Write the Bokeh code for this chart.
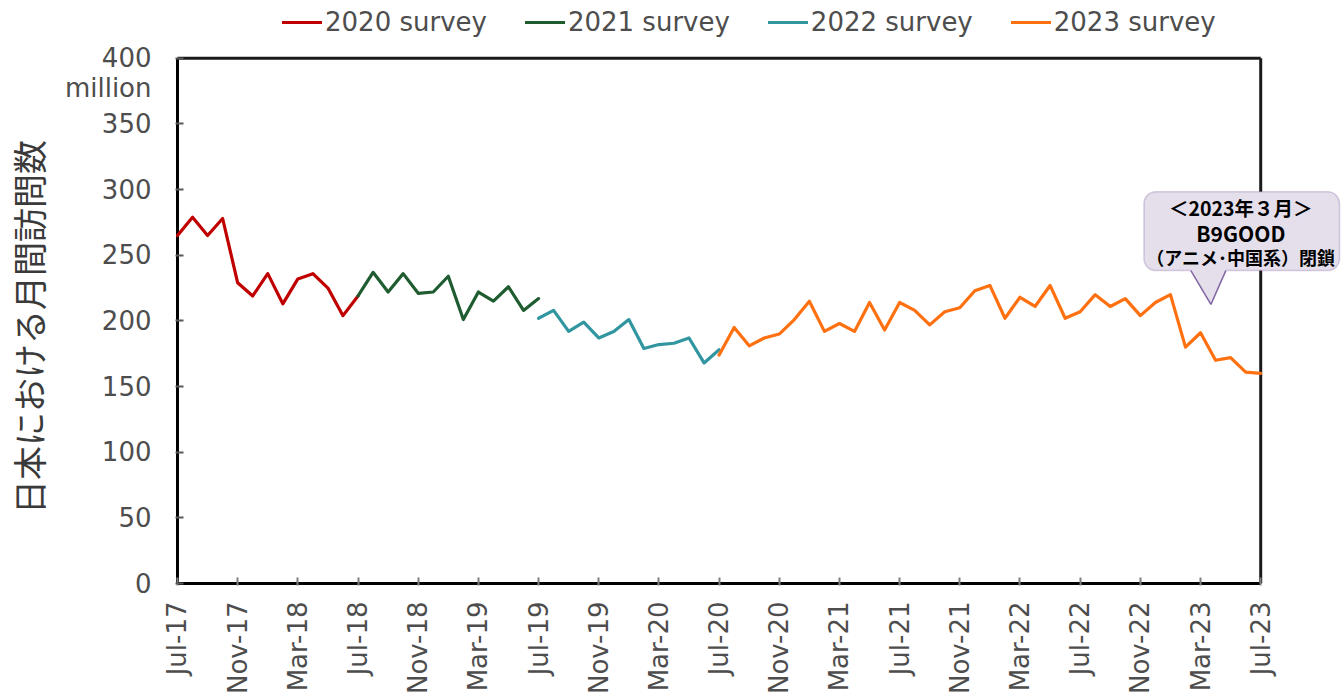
import numpy as np
from bokeh.plotting import figure
from bokeh.models import (FixedTicker, Legend, LegendItem, Label, Range1d,
                          ColumnDataSource, BoxAnnotation)
from bokeh.embed import file_html
from bokeh.resources import INLINE

# ---------------- data ----------------
x_tick_labels = ["Jul-17", "Nov-17", "Mar-18", "Jul-18", "Nov-18", "Mar-19", "Jul-19",
                 "Nov-19", "Mar-20", "Jul-20", "Nov-20", "Mar-21", "Jul-21", "Nov-21",
                 "Mar-22", "Jul-22", "Nov-22", "Mar-23", "Jul-23"]
x_tick_step = 4            # months between tick labels
y_ticks = [0, 50, 100, 150, 200, 250, 300, 350, 400]

survey_names = ["2020 survey", "2021 survey", "2022 survey", "2023 survey"]
survey_start = [0, 12, 24, 36]   # month index (0 = Jul-17)

visits_2020 = [265, 279, 265, 278, 229, 219, 236, 213, 232, 236, 225, 204, 219]
visits_2021 = [219, 237, 222, 236, 221, 222, 234, 201, 222, 215, 226, 208, 217]
visits_2022 = [202, 208, 192, 199, 187, 192, 201, 179, 182, 183, 187, 168, 178]
visits_2023 = [174, 195, 181, 187, 190, 201, 215, 192, 198, 192, 214, 193, 214, 208,
               197, 207, 210, 223, 227, 202, 218, 211, 227, 202, 207, 220, 211, 217,
               204, 214, 220, 180, 191, 170, 172, 161, 160]
series = [visits_2020, visits_2021, visits_2022, visits_2023]
colors = ["#c00000", "#1f5c30", "#3196a0", "#ff7010"]

y_axis_title = "日本における月間訪問数"
unit_text = "million"
callout_lines = ["＜2023年３月＞", "B9GOOD", "（アニメ･中国系）閉鎖"]

# ---------------- figure ----------------
n_months = x_tick_step * (len(x_tick_labels) - 1)
y_max = y_ticks[-1]
PX_PER_MONTH = 1086 / n_months
PX_PER_UNIT = 527 / y_max
x_start = -2 / PX_PER_MONTH
x_end = (1341 - 174) / PX_PER_MONTH          # frame runs to the right canvas edge
y_end = 585 / PX_PER_UNIT                    # frame runs to the top canvas edge
y_start = -2 / PX_PER_UNIT

p = figure(width=1341, height=697, output_backend="svg", toolbar_location=None,
           x_range=Range1d(x_start, x_end), y_range=Range1d(y_start, y_end),
           min_border_left=172, min_border_right=0, min_border_top=0,
           min_border_bottom=110)
p.grid.visible = False
p.outline_line_color = None
p.background_fill_color = "white"
p.border_fill_color = "white"

TEXT_COLOR = "#4d4d4d"

# plot-area box: bottom/left axis lines, top and right borders
p.multi_line([[0, n_months], [0, 0], [0, n_months], [n_months, n_months]],
             [[0, 0], [0, y_max], [y_max, y_max], [0, y_max]],
             line_color=["black", "black", "#1a1a1a", "#1a1a1a"], line_width=3)

renderers = []
for name, start, vals, col in zip(survey_names, survey_start, series, colors):
    xs = list(range(start, start + len(vals)))
    src = ColumnDataSource(dict(x=xs, y=vals))
    r = p.line("x", "y", source=src, line_color=col, line_width=3.2,
               line_join="round", line_cap="round")
    renderers.append((name, r))

# axes
xa = p.xaxis[0]
xa.ticker = FixedTicker(ticks=[i * x_tick_step for i in range(len(x_tick_labels))])
xa.major_label_overrides = {i * x_tick_step: lbl for i, lbl in enumerate(x_tick_labels)}
xa.major_label_orientation = np.pi / 2
xa.major_label_standoff = 16
xa.major_label_text_font = "DejaVu Sans"
xa.major_label_text_font_size = "26px"
xa.major_label_text_color = TEXT_COLOR
xa.axis_line_color = None
xa.major_tick_in = 8
xa.major_tick_out = 0
xa.major_tick_line_color = "#7f7f7f"
xa.major_tick_line_width = 2
xa.minor_tick_line_color = None

ya = p.yaxis[0]
ya.ticker = FixedTicker(ticks=y_ticks)
ya.major_label_overrides = {y_max: "\n%d\n%s" % (y_max, unit_text)}
ya.major_label_standoff = 24
ya.major_label_text_font = "DejaVu Sans"
ya.major_label_text_font_size = "26px"
ya.major_label_text_line_height = 1.0
ya.major_label_text_color = TEXT_COLOR
ya.axis_line_color = None
ya.major_tick_in = 8
ya.major_tick_out = 0
ya.major_tick_line_color = "#595959"
ya.major_tick_line_width = 2
ya.minor_tick_line_color = None
# two ideographic spaces at the end keep the title centred on the plot box
ya.axis_label = y_axis_title + "\u3000\u3000"
ya.axis_label_text_font = "Noto Sans CJK JP"
ya.axis_label_text_font_size = "34px"
ya.axis_label_text_font_style = "normal"
ya.axis_label_text_color = "#3a3a3a"
ya.axis_label_standoff = 9

# legend (inside the extended frame, above the plot box)
legend = Legend(items=[LegendItem(label=n, renderers=[r]) for n, r in renderers],
                orientation="horizontal", location=(107, 548),
                label_text_font="DejaVu Sans", label_text_font_size="26px",
                label_text_color=TEXT_COLOR, glyph_width=40, glyph_height=20,
                label_standoff=3, spacing=38, padding=0, margin=0,
                border_line_color=None, background_fill_alpha=0)
p.add_layout(legend, "center")

# callout box
BOX_L, BOX_R, BOX_T, BOX_B = 64.24, 77.24, 298.3, 238.3
CALLOUT_FILL, CALLOUT_LINE = "#e5dfec", "#8064a2"
p.add_layout(BoxAnnotation(left=BOX_L, right=BOX_R, top=BOX_T, bottom=BOX_B,
                           fill_color=CALLOUT_FILL, fill_alpha=1.0,
                           line_color=CALLOUT_LINE, line_width=1.5, border_radius=12))
TEXT_X = 70.68
TEXT_Y = [286.1, 267.2, 249.0]
TEXT_SIZE = ["19.5px", "21px", "18px"]
for t, ty, fs in zip(callout_lines, TEXT_Y, TEXT_SIZE):
    p.add_layout(Label(x=TEXT_X, y=ty, text=t, text_align="center",
                       text_baseline="middle", text_font="Noto Sans CJK JP",
                       text_font_style="bold", text_font_size=fs, text_color="black"))
PTR_LEFT, PTR_RIGHT, PTR_TIP_X = 67.36, 69.68, 68.69
PTR_TIP_Y = 212.5
tri = p.patch([PTR_LEFT, PTR_RIGHT, PTR_TIP_X], [BOX_B + 1.4, BOX_B + 1.4, PTR_TIP_Y],
              fill_color=CALLOUT_FILL, line_color=None)
tri.level = "overlay"
sides = p.multi_line([[PTR_LEFT, PTR_TIP_X], [PTR_RIGHT, PTR_TIP_X]],
                     [[BOX_B, PTR_TIP_Y], [BOX_B, PTR_TIP_Y]],
                     line_color=CALLOUT_LINE, line_width=1.5)
sides.level = "overlay"

open("out.html", "w").write(file_html(p, INLINE))
